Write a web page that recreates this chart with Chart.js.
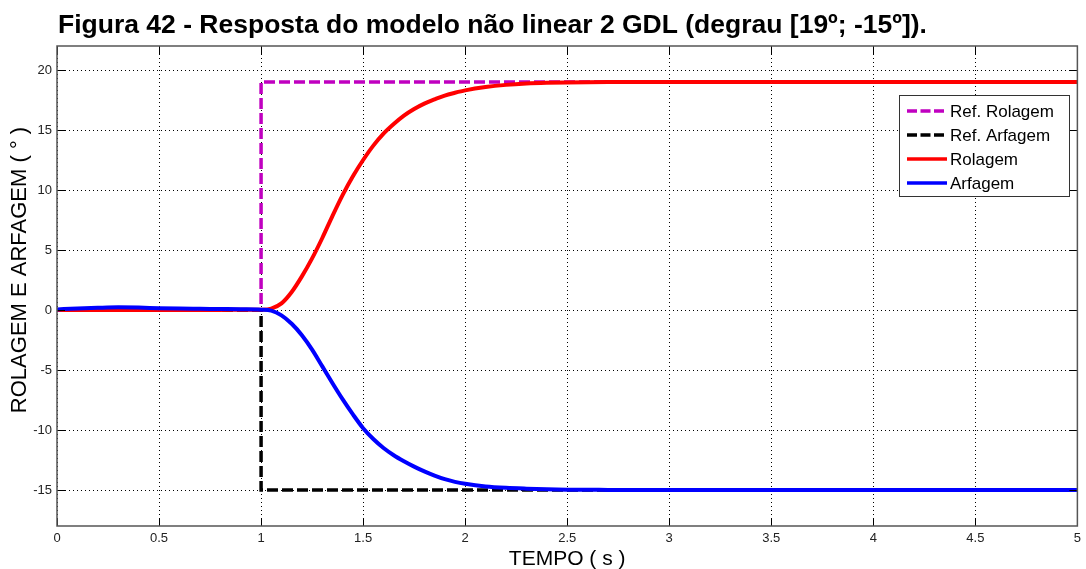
<!DOCTYPE html>
<html>
<head>
<meta charset="utf-8">
<script src="https://cdn.jsdelivr.net/npm/chart.js@4.4.0/dist/chart.umd.min.js"></script>
<style>
  html, body { margin: 0; padding: 0; background: #fff; }
  #wrap { position: relative; width: 1086px; height: 569px; }
</style>
</head>
<body>
<div id="wrap"><canvas id="c" width="1086" height="569"></canvas></div>
<script>
const chartTitle = "Figura 42 - Resposta do modelo não linear 2 GDL (degrau [19º; -15º]).";
const xTitle = "TEMPO ( s )";
const yTitle = "ROLAGEM E ARFAGEM ( ° )";
const seriesNames = ["Ref. Rolagem", "Ref. Arfagem", "Rolagem", "Arfagem"];

const xTicks = [0, 0.5, 1, 1.5, 2, 2.5, 3, 3.5, 4, 4.5, 5];
const yTicks = [-15, -10, -5, 0, 5, 10, 15, 20];

const refTime = [0, 1, 1, 5];
const refRolagem = [0, 0, 19, 19];
const refArfagem = [0, 0, -15, -15];

const time = [0, 0.1, 0.2, 0.3, 0.4, 0.5, 0.6, 0.7, 0.8, 0.9, 1.0, 1.05, 1.1, 1.15, 1.2, 1.25, 1.3, 1.35, 1.4, 1.45, 1.5, 1.55, 1.6, 1.65, 1.7, 1.75, 1.8, 1.85, 1.9, 1.95, 2.0, 2.1, 2.2, 2.3, 2.4, 2.5, 2.7, 3.0, 3.5, 4.0, 4.5, 5.0];
const rolagem = [0, 0, 0, 0, 0, 0, 0, 0, 0.01, 0.02, 0.03, 0.12, 0.55, 1.5, 2.8, 4.3, 6.0, 7.85, 9.6, 11.15, 12.5, 13.7, 14.7, 15.5, 16.2, 16.75, 17.2, 17.55, 17.87, 18.1, 18.3, 18.58, 18.76, 18.87, 18.93, 18.96, 18.99, 19, 19, 19, 19, 19];
const arfagem = [0.05, 0.12, 0.18, 0.22, 0.2, 0.15, 0.12, 0.1, 0.08, 0.06, 0.03, -0.05, -0.45, -1.15, -2.1, -3.3, -4.7, -6.1, -7.45, -8.7, -9.85, -10.75, -11.5, -12.1, -12.6, -13.05, -13.45, -13.8, -14.1, -14.32, -14.48, -14.7, -14.82, -14.89, -14.94, -14.97, -14.99, -15, -15, -15, -15, -15];

const pts = (xs, ys) => xs.map((x, i) => ({x: x, y: ys[i]}));

const FONT = "'Liberation Sans', Arial, sans-serif";

const framePlugin = {
  id: 'frame',
  afterDatasetsDraw(chart) {
    const ctx = chart.ctx, a = chart.chartArea;
    const xs = chart.scales.x, ys = chart.scales.y;
    ctx.save();
    // inward ticks
    ctx.strokeStyle = '#000';
    ctx.lineWidth = 1;
    ctx.beginPath();
    xTicks.forEach(v => {
      const px = Math.round(xs.getPixelForValue(v)) + 0.5;
      ctx.moveTo(px, a.bottom); ctx.lineTo(px, a.bottom - 8);
      ctx.moveTo(px, a.top); ctx.lineTo(px, a.top + 8);
    });
    yTicks.forEach(v => {
      const py = Math.round(ys.getPixelForValue(v)) + 0.5;
      ctx.moveTo(a.left, py); ctx.lineTo(a.left + 8, py);
      ctx.moveTo(a.right, py); ctx.lineTo(a.right - 8, py);
    });
    ctx.stroke();
    // frame
    ctx.strokeStyle = '#555';
    ctx.lineWidth = 1.5;
    ctx.strokeRect(a.left, a.top, a.right - a.left, a.bottom - a.top);
    // title
    ctx.fillStyle = '#000';
    ctx.font = "bold 26.5px " + FONT;
    ctx.textAlign = 'left';
    ctx.textBaseline = 'alphabetic';
    ctx.fillText(chartTitle, 58, 33);
    // y title
    ctx.save();
    ctx.translate(20, 270);
    ctx.rotate(-Math.PI / 2);
    ctx.font = "22px " + FONT;
    ctx.textAlign = 'center';
    ctx.textBaseline = 'middle';
    ctx.fillText(yTitle, 0, 0);
    ctx.restore();
    // legend
    const lx = 899, ly = 95, lw = 170, lh = 101;
    ctx.fillStyle = '#fff';
    ctx.fillRect(lx, ly, lw, lh);
    ctx.strokeStyle = '#333';
    ctx.lineWidth = 1;
    ctx.strokeRect(lx + 0.5, ly + 0.5, lw, lh);
    ctx.font = "17px " + FONT;
    ctx.textAlign = 'left';
    ctx.textBaseline = 'middle';
    chart.data.datasets.forEach((ds, i) => {
      const y = ly + 16 + i * 24;
      ctx.strokeStyle = ds.borderColor;
      ctx.lineWidth = 3.5;
      ctx.setLineDash(ds.borderDash ? [10, 3.5] : []);
      ctx.beginPath();
      ctx.moveTo(lx + 8, y); ctx.lineTo(lx + 48, y);
      ctx.stroke();
      ctx.setLineDash([]);
      ctx.fillStyle = '#000';
      ctx.fillText(ds.label, lx + 51, y + 1);
    });
    ctx.restore();
  }
};

new Chart(document.getElementById('c'), {
  type: 'line',
  data: {
    datasets: [
      { label: seriesNames[0], data: pts(refTime, refRolagem), borderColor: '#c000c0', borderWidth: 3.5, borderDash: [11, 4], order: 4 },
      { label: seriesNames[1], data: pts(refTime, refArfagem), borderColor: '#000000', borderWidth: 3.5, borderDash: [11, 4], order: 3 },
      { label: seriesNames[2], data: pts(time, rolagem), borderColor: '#ff0000', borderWidth: 4, cubicInterpolationMode: 'monotone', order: 2 },
      { label: seriesNames[3], data: pts(time, arfagem), borderColor: '#0000ff', borderWidth: 4, cubicInterpolationMode: 'monotone', order: 1 }
    ]
  },
  options: {
    responsive: false,
    animation: false,
    elements: { point: { radius: 0 }, line: { tension: 0, fill: false } },
    layout: { padding: { top: 46, right: 7, left: 0, bottom: 0 } },
    plugins: { legend: { display: false }, title: { display: false }, tooltip: { enabled: false } },
    scales: {
      x: {
        type: 'linear', min: 0, max: 5,
        afterFit(s) { s.height = 43; },
        afterBuildTicks(s) { s.ticks = xTicks.map(v => ({value: v})); },
        ticks: { color: '#222', font: { family: FONT, size: 13 }, padding: 5, maxRotation: 0, autoSkip: false,
                 callback: v => String(v) },
        grid: { color: '#000', lineWidth: 1, drawTicks: false },
        border: { display: false, dash: [1, 3] },
        title: { display: true, text: xTitle, color: '#000', font: { family: FONT, size: 21 }, padding: { top: 0, bottom: -3 } }
      },
      y: {
        type: 'linear', min: -18, max: 22,
        afterFit(s) { s.width = 57; },
        afterBuildTicks(s) { s.ticks = yTicks.map(v => ({value: v})); },
        ticks: { color: '#222', font: { family: FONT, size: 13 }, padding: 5, autoSkip: false,
                 callback: v => String(v) },
        grid: { color: '#000', lineWidth: 1, drawTicks: false },
        border: { display: false, dash: [1, 3] },
        title: { display: false }
      }
    }
  },
  plugins: [framePlugin]
});
</script>
</body>
</html>
